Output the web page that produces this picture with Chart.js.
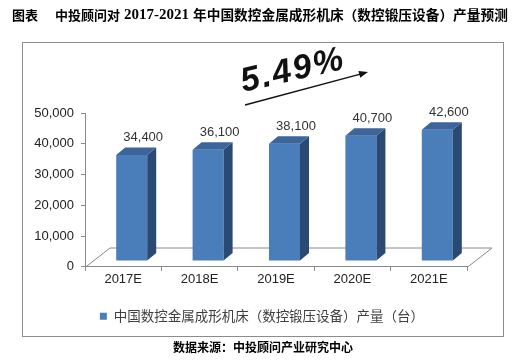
<!DOCTYPE html>
<html>
<head>
<meta charset="utf-8">
<script src="https://cdn.jsdelivr.net/npm/chart.js@4/dist/chart.umd.min.js"></script>
<style>
html,body{margin:0;padding:0;background:#fff;}
#wrap{width:519px;height:364px;position:relative;}
</style>
</head>
<body>
<div id="wrap"><canvas id="c" width="519" height="364"></canvas></div>
<script>
// ---- data ----
const categories = ['2017E', '2018E', '2019E', '2020E', '2021E'];
const production = [34400, 36100, 38100, 40700, 42600];
const yTickValues = [0, 10000, 20000, 30000, 40000, 50000];
const seriesName = '中国数控金属成形机床（数控锻压设备）产量（台）';
const titleLead = '图表';
const titleA = '中投顾问对';
const titleYears = '2017-2021';
const titleB = '年中国数控金属成形机床（数控锻压设备）产量预测';
const growthLabel = '5.49%';
const sourceText = '数据来源：中投顾问产业研究中心';

// ---- style constants ----
const CJK = '"Noto Sans CJK SC", "Noto Sans", sans-serif';
const LAT = '"Liberation Sans", Arial, sans-serif';
const SHIFT_X = 8.5, SHIFT_Y = -6;     // bar offset into depth
const DEPTH_X = 9, DEPTH_Y = -7.5;     // bar depth
const FLOOR_X = 25, FLOOR_Y = -19.5;   // floor depth
const LINE = '#8a8a8a';

const fmt = v => Number(v).toLocaleString('en-US');

const pseudo3d = {
  id: 'pseudo3d',
  afterLayout(chart) {
    // centre the legend under the plot like the original
    const lg = chart.legend;
    if (lg) { lg.left = 57; lg.right = 467; }
  },
  beforeDraw(chart) {
    const ctx = chart.ctx;
    ctx.save();
    ctx.fillStyle = '#fff';
    ctx.fillRect(0, 0, chart.width, chart.height);
    ctx.strokeStyle = '#8c8c8c';
    ctx.lineWidth = 1;
    ctx.strokeRect(22.5, 42.5, 481, 294);
    ctx.restore();
  },
  beforeDatasetsDraw(chart) {
    const ctx = chart.ctx;
    const a = chart.chartArea;
    const b = Math.round(a.bottom) + 0.5;
    ctx.save();
    ctx.strokeStyle = LINE;
    ctx.lineWidth = 1;
    ctx.beginPath();
    ctx.moveTo(a.left, b);
    ctx.lineTo(a.left + FLOOR_X, b + FLOOR_Y);
    ctx.lineTo(a.right + FLOOR_X, b + FLOOR_Y);
    ctx.lineTo(a.right, b);
    ctx.stroke();
    ctx.restore();
    ctx.save();
    ctx.translate(SHIFT_X, SHIFT_Y);
  },
  afterDatasetsDraw(chart) {
    const ctx = chart.ctx;
    const meta = chart.getDatasetMeta(0);
    meta.data.forEach((el, i) => {
      const p = el.getProps(['x', 'y', 'base', 'width'], true);
      const l = p.x - p.width / 2, r = p.x + p.width / 2;
      // side face
      ctx.fillStyle = '#2b4a73';
      ctx.beginPath();
      ctx.moveTo(r, p.y);
      ctx.lineTo(r + DEPTH_X, p.y + DEPTH_Y);
      ctx.lineTo(r + DEPTH_X, p.base + DEPTH_Y);
      ctx.lineTo(r, p.base);
      ctx.closePath();
      ctx.fill();
      // top face
      ctx.fillStyle = '#3c659b';
      ctx.beginPath();
      ctx.moveTo(l, p.y);
      ctx.lineTo(l + DEPTH_X, p.y + DEPTH_Y);
      ctx.lineTo(r + DEPTH_X, p.y + DEPTH_Y);
      ctx.lineTo(r, p.y);
      ctx.closePath();
      ctx.fill();
      // value label
      ctx.fillStyle = '#333';
      ctx.font = '13px ' + LAT;
      ctx.textAlign = 'center';
      ctx.textBaseline = 'middle';
      ctx.fillText(fmt(production[i]), p.x + 11.5, p.y + DEPTH_Y - 10);
    });
    ctx.restore();
  },
  afterDraw(chart) {
    const ctx = chart.ctx;
    ctx.save();
    // title
    ctx.fillStyle = '#000';
    ctx.textBaseline = 'middle';
    ctx.textAlign = 'left';
    ctx.font = 'bold 13px ' + CJK;
    ctx.fillText(titleLead, 12, 15);
    ctx.fillText(titleA, 55, 15);
    ctx.font = 'bold 15px "Liberation Serif", serif';
    ctx.fillText(titleYears, 124, 15.5);
    ctx.font = 'bold 13.7px ' + CJK;
    ctx.fillText(titleB, 193, 15);
    // growth annotation
    ctx.save();
    ctx.translate(293, 71);
    ctx.rotate(-13 * Math.PI / 180);
    ctx.font = 'italic bold 34px ' + LAT;
    ctx.textAlign = 'center';
    ctx.textBaseline = 'middle';
    try { ctx.letterSpacing = '2px'; } catch (e) {}
    ctx.fillStyle = '#111';
    ctx.fillText(growthLabel, 0, 0);
    ctx.restore();
    // arrow
    const x0 = 245, y0 = 105, x1 = 368, y1 = 72;
    const ang = Math.atan2(y1 - y0, x1 - x0);
    ctx.strokeStyle = '#111';
    ctx.fillStyle = '#111';
    ctx.lineWidth = 1.4;
    ctx.beginPath();
    ctx.moveTo(x0, y0);
    ctx.lineTo(x1 - 6 * Math.cos(ang), y1 - 6 * Math.sin(ang));
    ctx.stroke();
    ctx.beginPath();
    ctx.moveTo(x1, y1);
    ctx.lineTo(x1 - 9 * Math.cos(ang) + 3.5 * Math.sin(ang), y1 - 9 * Math.sin(ang) - 3.5 * Math.cos(ang));
    ctx.lineTo(x1 - 9 * Math.cos(ang) - 3.5 * Math.sin(ang), y1 - 9 * Math.sin(ang) + 3.5 * Math.cos(ang));
    ctx.closePath();
    ctx.fill();
    // source
    ctx.font = 'bold 12px ' + CJK;
    ctx.textAlign = 'center';
    ctx.textBaseline = 'middle';
    ctx.fillStyle = '#000';
    ctx.fillText(sourceText, 263, 347);
    ctx.restore();
  }
};

new Chart(document.getElementById('c'), {
  type: 'bar',
  data: {
    labels: categories,
    datasets: [{
      label: seriesName,
      data: production,
      backgroundColor: '#4a7ebb',
      borderColor: '#41709f',
      borderWidth: 0,
      categoryPercentage: 1,
      barPercentage: 0.406
    }]
  },
  options: {
    responsive: false,
    animation: false,
    devicePixelRatio: 1,
    layout: { padding: { left: 22, right: 52, top: 113, bottom: 31 } },
    plugins: {
      title: { display: false },
      tooltip: { enabled: false },
      legend: {
        display: true,
        position: 'bottom',
        labels: {
          boxWidth: 7,
          boxHeight: 7,
          padding: 21,
          color: '#404040',
          font: { size: 13.5, family: CJK }
        }
      }
    },
    scales: {
      x: {
        grid: { display: true, drawOnChartArea: false, drawTicks: true, tickLength: 4, color: LINE, offset: true },
        border: { display: true, color: LINE },
        ticks: { color: '#222', padding: 1, font: { size: 13, family: LAT } }
      },
      y: {
        min: 0,
        max: 50000,
        afterBuildTicks: s => { s.ticks = yTickValues.map(v => ({ value: v })); },
        afterFit: s => { s.width = 63; },
        grid: { display: true, drawOnChartArea: false, drawTicks: true, tickLength: 4, color: LINE },
        border: { display: true, color: LINE },
        ticks: { color: '#222', padding: 7, font: { size: 13, family: LAT }, callback: v => fmt(v) }
      }
    }
  },
  plugins: [pseudo3d]
});
</script>
</body>
</html>
